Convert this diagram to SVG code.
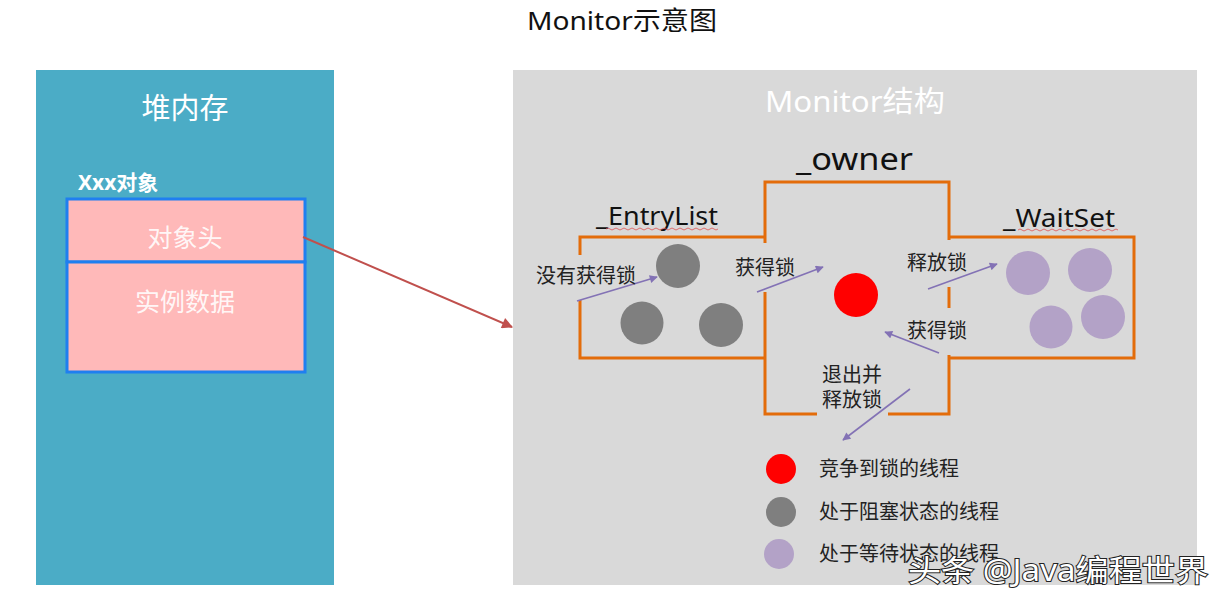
<svg xmlns="http://www.w3.org/2000/svg" width="1227" height="604" viewBox="0 0 1227 604">
<defs>
<style>
.cjk{font-family:"Noto Sans","Noto Sans CJK SC",sans-serif}
.lbl{font-family:"Noto Sans CJK SC","Noto Sans",sans-serif;font-size:20px;fill:#222}
.nm{font-family:"Noto Sans","Noto Sans CJK SC",sans-serif;fill:#111}
.orange{fill:none;stroke:#e36c0a;stroke-width:3;stroke-linejoin:miter}
.parr{stroke:#8372b5;stroke-width:1.6;fill:none}
.gray{fill:#7f7f7f}
.purple{fill:#b3a2c7}
.wave{fill:none;stroke:#e05050;stroke-width:0.8}
</style>
<marker id="pa" viewBox="0 0 10 10" refX="9" refY="5" markerWidth="10" markerHeight="8" markerUnits="userSpaceOnUse" orient="auto"><path d="M0,0 L10,5 L0,10 z" fill="#8372b5"/></marker>
<marker id="ra" viewBox="0 0 10 10" refX="9" refY="5" markerWidth="14" markerHeight="11" markerUnits="userSpaceOnUse" orient="auto"><path d="M0,0 L10,5 L0,10 z" fill="#c0504d"/></marker>
</defs>
<rect width="1227" height="604" fill="#ffffff"/>
<text class="cjk" x="527" y="30" font-size="26" fill="#111" textLength="190" lengthAdjust="spacingAndGlyphs">Monitor示意图</text>

<g id="heap">
<rect x="36" y="70" width="298" height="515" fill="#4bacc6"/>
<text class="cjk" x="185" y="119" font-size="29" fill="#ffffff" text-anchor="middle">堆内存</text>
<text class="cjk" x="78" y="190" font-size="21" font-weight="bold" fill="#ffffff">Xxx对象</text>
</g>
<g id="object-header">
<rect x="67" y="199" width="238" height="63" fill="#ffb9b9" stroke="#1f7ff0" stroke-width="3"/>
<text class="cjk" x="185" y="247" font-size="25" fill="#ffffff" fill-opacity="0.9" text-anchor="middle">对象头</text>
</g>
<g id="instance-data">
<rect x="67" y="262" width="238" height="110" fill="#ffb9b9" stroke="#1f7ff0" stroke-width="3"/>
<text class="cjk" x="185" y="311" font-size="25" fill="#ffffff" fill-opacity="0.9" text-anchor="middle">实例数据</text>
</g>

<g id="monitor">
<rect x="513" y="70" width="684" height="515" fill="#d9d9d9"/>
<text class="cjk" x="765" y="112" font-size="29" fill="#ffffff" textLength="180" lengthAdjust="spacingAndGlyphs">Monitor结构</text>
</g>

<g id="owner">
<path class="orange" d="M765,243 L765,182 L949,182 L949,240"/>
<path class="orange" d="M765,292 L765,414 L817,414"/>
<path class="orange" d="M888,414 L949,414 L949,355"/>
<path class="orange" d="M949,287 L949,308"/>
<text class="nm" x="796" y="170" font-size="31" textLength="117" lengthAdjust="spacingAndGlyphs">_owner</text>
<circle cx="856" cy="295" r="22" fill="#ff0000"/>
</g>
<g id="entrylist">
<path class="orange" d="M765,237 L580,237 L580,255"/>
<path class="orange" d="M580,300 L580,358 L765,358"/>
<text class="nm" x="596" y="225" font-size="25" textLength="122" lengthAdjust="spacingAndGlyphs">_EntryList</text>
<path class="wave" d="M606,229 q2,-2 4,0 t4,0 t4,0 t4,0 t4,0 t4,0 t4,0 t4,0 t4,0 t4,0 t4,0 t4,0 t4,0 t4,0 t4,0 t4,0 t4,0 t4,0 t4,0 t4,0 t4,0 t4,0 t4,0 t4,0 t4,0 t4,0 t4,0 t4,0"/>
<circle class="gray" cx="678" cy="266" r="22"/>
<circle class="gray" cx="642" cy="323" r="21.5"/>
<circle class="gray" cx="721" cy="325" r="22"/>
</g>
<g id="waitset">
<path class="orange" d="M949,237 L1134,237 L1134,358 L949,358"/>
<text class="nm" x="1003" y="227" font-size="25" textLength="112" lengthAdjust="spacingAndGlyphs">_WaitSet</text>
<path class="wave" d="M1018,230 q2,-2 4,0 t4,0 t4,0 t4,0 t4,0 t4,0 t4,0 t4,0 t4,0 t4,0 t4,0 t4,0 t4,0 t4,0 t4,0 t4,0 t4,0 t4,0 t4,0 t4,0 t4,0 t4,0 t4,0 t4,0 t4,0"/>
<circle class="purple" cx="1028" cy="273" r="22"/>
<circle class="purple" cx="1090" cy="270" r="22"/>
<circle class="purple" cx="1051" cy="327" r="21.5"/>
<circle class="purple" cx="1103" cy="317" r="22"/>
</g>

<g id="connectors">
<line x1="303" y1="237" x2="512" y2="327" stroke="#c0504d" stroke-width="2" marker-end="url(#ra)"/>
<line class="parr" x1="577" y1="301" x2="657" y2="277" marker-end="url(#pa)"/>
<line class="parr" x1="757" y1="292" x2="823" y2="267" marker-end="url(#pa)"/>
<line class="parr" x1="928" y1="289" x2="997" y2="264" marker-end="url(#pa)"/>
<line class="parr" x1="939" y1="353" x2="885" y2="332" marker-end="url(#pa)"/>
<line class="parr" x1="910" y1="389" x2="843" y2="440" marker-end="url(#pa)"/>
<text class="lbl" x="536" y="283">没有获得锁</text>
<text class="lbl" x="735" y="275">获得锁</text>
<text class="lbl" x="907" y="270">释放锁</text>
<text class="lbl" x="907" y="338">获得锁</text>
<text class="lbl" x="822" y="382">退出并</text>
<text class="lbl" x="822" y="407">释放锁</text>
</g>

<g id="legend">
<circle cx="781" cy="469" r="15" fill="#ff0000"/>
<text class="lbl" x="819" y="476">竞争到锁的线程</text>
<circle cx="781" cy="512" r="15" fill="#7f7f7f"/>
<text class="lbl" x="819" y="519">处于阻塞状态的线程</text>
<circle cx="779" cy="554" r="15" fill="#b3a2c7"/>
<text class="lbl" x="819" y="561">处于等待状态的线程</text>
</g>

<text class="cjk" x="908" y="581" font-size="30" fill="#ffffff" stroke="#222" stroke-width="2" paint-order="stroke" textLength="300" lengthAdjust="spacingAndGlyphs">头条 @Java编程世界</text>
</svg>
